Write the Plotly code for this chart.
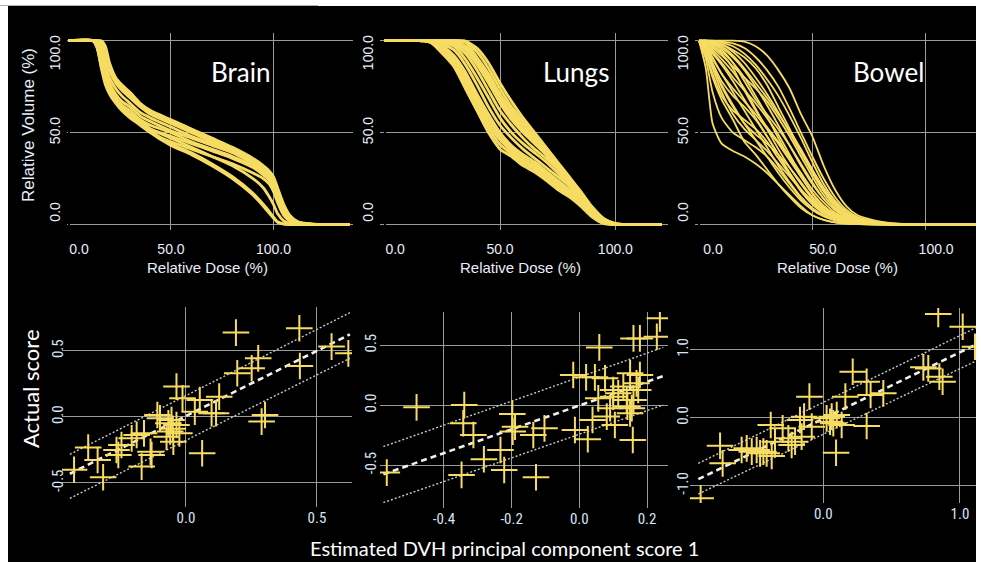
import plotly.graph_objects as go

W, H = 981, 562
YELLOW = '#f6dc62'
GRID = '#9a9a9a'
TICKC = '#e8eef7'
TICKC2 = '#d8e6f6'
SP = '\u2002'

# ---------------- DVH curves (top row) ----------------
brain_dose = [0, 12, 14, 16, 18, 20, 23, 26, 30, 35, 40, 50, 60, 70, 80, 90, 95, 98, 100, 102, 105, 108, 112, 118, 125, 137]
brain_curves = [
    [100, 100, 100, 100, 97, 88, 80, 76, 72, 66, 62, 57, 52, 47, 42, 36, 32, 29, 26, 20, 11, 5, 1.5, 0.3, 0, 0],
    [100, 100, 100, 99.5, 95, 86, 78.5, 74.5, 70.5, 65, 61, 56, 51, 46, 41.5, 35.5, 31.5, 28.5, 25, 19, 10, 4.5, 1.2, 0.2, 0, 0],
    [100, 100, 100, 99, 93, 84, 77, 73, 69, 64, 60, 55, 50, 45, 41, 35, 31, 28, 24, 18, 9, 4, 1, 0.2, 0, 0],
    [100, 100, 100, 97, 88, 80, 74, 70, 66, 61, 58, 53, 48, 44, 40, 34, 30, 27, 23, 16, 8, 3, 1, 0.2, 0, 0],
    [100, 100, 99, 94, 84, 77, 71, 67, 64, 59, 56, 51, 47, 43, 39, 33, 29, 26, 22, 15, 7, 3, 0.8, 0.1, 0, 0],
    [100, 100, 98, 90, 81, 75, 69, 65, 62, 57, 54, 50, 45, 41, 37, 32, 28, 25, 21, 14, 6, 2.5, 0.6, 0.1, 0, 0],
    [100, 100, 97, 87, 78, 73, 68, 63, 60, 56, 52, 48, 44, 40, 36, 31, 27, 24, 20, 13, 6, 2, 0.5, 0, 0, 0],
    [100, 100, 96, 85, 76, 71, 66, 62, 58, 54, 50, 45, 41, 37, 33, 28, 25, 22, 18, 12, 5, 2, 0.5, 0, 0, 0],
    [100, 100, 97, 87, 79, 73, 68, 64, 60, 56, 52, 47, 42, 37, 32, 25, 20, 15, 11, 6, 2, 0.6, 0.1, 0, 0, 0],
    [100, 100, 98, 88, 80, 74, 69, 64, 60, 56, 51, 44, 39, 33, 26, 17, 11, 7, 4, 1.5, 0.3, 0, 0, 0, 0, 0],
    [100, 100, 96, 86, 78, 72, 67, 63, 59, 55, 50, 43, 38, 32, 25, 16, 10, 6, 3.5, 1.2, 0.2, 0, 0, 0, 0, 0],
]

lungs_dose = [0, 15, 20, 25, 30, 35, 40, 45, 50, 55, 60, 65, 70, 75, 80, 85, 90, 95, 100, 105, 120]
lungs_curves = [
    [100, 100, 99, 93, 86, 74, 62, 50, 41, 37, 32, 28.5, 24, 19, 15, 10, 4, 0.5, 0, 0, 0],
    [100, 100, 99, 94.5, 87.5, 76.5, 64.5, 52.5, 43.5, 38.5, 33.5, 29.8, 25.5, 20.5, 16, 10.5, 4.5, 0.7, 0, 0, 0],
    [100, 100, 99.5, 96, 89, 79, 67, 55, 46, 40, 35, 31, 27, 22, 17, 11, 5, 1, 0, 0, 0],
    [100, 100, 99.8, 96.5, 90.5, 81, 69, 57.5, 48, 41.5, 36.5, 32.5, 28, 23, 18, 12, 5.5, 1.1, 0, 0, 0],
    [100, 100, 100, 97, 92, 83, 71, 60, 50, 43, 38, 34, 29, 24, 19, 13, 6, 1.2, 0.1, 0, 0],
    [100, 100, 100, 98, 95, 87, 76, 64, 54, 47, 41, 36, 31, 26, 21, 14, 7, 1.5, 0.1, 0, 0],
    [100, 100, 100, 99, 97, 90, 80, 69, 58, 50, 44, 39, 34, 28, 22, 15, 7.5, 2, 0.2, 0, 0],
    [100, 100, 100, 100, 98, 93, 84, 73, 62, 54, 47, 41, 36, 30, 23, 16, 8, 2, 0.2, 0, 0],
    [100, 100, 100, 100, 99, 95, 87, 77, 66, 57, 50, 44, 38, 32, 25, 17, 8.5, 2.2, 0.3, 0, 0],
    [100, 100, 100, 100, 99.5, 96, 88.5, 78.5, 67.5, 58.5, 51, 44.5, 38.5, 32, 24.5, 16.5, 7.8, 2, 0.25, 0, 0],
    [100, 100, 100, 100, 100, 97, 90, 80, 69, 60, 52, 45, 39, 32, 24, 16, 7, 1.8, 0.2, 0, 0],
    [100, 100, 100, 100, 100, 99, 91, 82, 71, 62, 54, 46, 38, 31, 22, 14, 6.5, 2, 0.3, 0, 0],
    [100, 100, 100, 100, 100, 99.5, 94, 85, 74, 64, 56, 48, 40, 33, 25, 17, 9, 3, 0.5, 0, 0],
    [100, 100, 100, 100, 100, 99.8, 96, 88, 77, 67, 58, 50, 42, 34, 26, 18, 9.5, 3.2, 0.5, 0, 0],
]

bowel_dose = [0, 3, 6, 10, 15, 20, 25, 30, 35, 40, 45, 50, 55, 60, 65, 70, 80, 90, 100, 123]
bowel_curves = [
    [100, 85, 55, 44, 40, 37, 33, 28, 22, 16, 10, 5, 2.5, 1.2, 0.5, 0.2, 0, 0, 0, 0],
    [100, 92, 80, 68, 57, 45, 38, 30, 22, 15, 9, 5, 2.5, 1.2, 0.5, 0.2, 0, 0, 0, 0],
    [100, 95, 86, 76, 65, 55, 46, 37, 28, 20, 13, 8, 4.5, 2.5, 1.2, 0.5, 0.1, 0, 0, 0],
    [100, 96, 90, 82, 72, 62, 52, 42, 32, 23, 15, 9, 5, 2.5, 1.2, 0.5, 0.1, 0, 0, 0],
    [100, 97, 93, 87, 78, 68, 58, 48, 38, 28, 19, 12, 7, 4, 2, 1, 0.2, 0, 0, 0],
    [100, 98, 95, 90, 83, 74, 63, 52, 41, 31, 22, 14, 8, 4.5, 2.2, 1, 0.2, 0, 0, 0],
    [100, 99, 97, 94, 88, 80, 70, 59, 47, 36, 26, 17, 10, 5.5, 2.8, 1.3, 0.3, 0, 0, 0],
    [100, 99.5, 98.5, 96, 91, 84, 75, 65, 54, 43, 32, 22, 14, 8, 4, 2, 0.4, 0, 0, 0],
    [100, 100, 99.5, 98, 94, 88, 80, 71, 61, 50, 39, 28, 18, 10, 5, 2.5, 0.5, 0.1, 0, 0],
    [100, 100, 100, 99, 97, 93, 87, 79, 70, 59, 47, 34, 22, 13, 7, 3.5, 0.8, 0.1, 0, 0],
    [100, 100, 100, 100, 100, 99.5, 97, 92, 84, 74, 60, 48, 32, 19, 10, 5, 1.5, 0.3, 0, 0],
    [100, 97, 88, 78, 70, 64, 57, 48, 38, 28, 19, 12, 7, 4, 2, 1, 0.2, 0, 0, 0],
    [100, 98, 94, 88, 80, 73, 66, 58, 49, 38, 27, 17, 10, 5.5, 3, 1.5, 0.3, 0, 0, 0],
    [100, 99, 98, 95, 88, 78, 68, 60, 52, 43, 33, 23, 14, 8, 4, 2, 0.4, 0, 0, 0],
    [100, 95, 85, 72, 60, 52, 46, 40, 33, 26, 19, 13, 8, 4.5, 2.3, 1.1, 0.2, 0, 0, 0],
    [100, 99, 96, 92, 86, 80, 74, 67, 58, 48, 37, 26, 16, 9, 5, 2.5, 0.5, 0.1, 0, 0],
    [100, 100, 99, 97, 92, 85, 77, 69, 60, 51, 41, 30, 20, 12, 6, 3, 0.6, 0.1, 0, 0],
    [100, 98, 91, 82, 74, 67, 60, 52, 44, 35, 26, 17, 10, 5.5, 3, 1.4, 0.3, 0, 0, 0],
    [100, 100, 99, 98, 95, 91, 85, 76, 64, 52, 40, 29, 19, 11, 6, 3, 0.7, 0.1, 0, 0],
    [100, 96, 87, 75, 64, 55, 49, 44, 38, 31, 23, 15, 9, 5, 2.5, 1.2, 0.3, 0, 0, 0],
    [100, 93, 82, 70, 62, 57, 52, 45, 36, 27, 18, 11, 6, 3.2, 1.6, 0.8, 0.2, 0, 0, 0],
    [100, 99, 97, 93, 85, 73, 62, 53, 45, 37, 28, 19, 12, 6.5, 3.3, 1.6, 0.3, 0, 0, 0],
    [100, 100, 99.8, 99.5, 98.5, 96, 91, 84, 75, 63, 50, 37, 25, 15, 8, 4, 1, 0.2, 0, 0],
    [100, 90, 72, 58, 50, 46, 42, 37, 30, 22, 14, 8, 4.5, 2.2, 1, 0.4, 0.1, 0, 0, 0],
]

# ---------------- PC score scatter (bottom row) ----------------
brain_est = [-0.427, -0.373, -0.337, -0.316, -0.265, -0.258, -0.246, -0.207, -0.188, -0.160, -0.169, -0.135,
             -0.131, -0.109, -0.099, -0.074, -0.067, -0.055, -0.048, -0.036, -0.025, -0.036, -0.013, 0.053,
             0.034, 0.098, 0.115, 0.127, 0.062, 0.191, 0.196, 0.251, 0.276, 0.289, 0.302, 0.433, 0.435,
             0.556, 0.620, -0.050, -0.060]
brain_act = [-0.40, -0.232, -0.326, -0.457, -0.25, -0.288, -0.212, -0.162, -0.136, -0.124, -0.376, -0.263,
             -0.288, 0.015, -0.01, -0.149, -0.048, -0.023, -0.187, -0.061, -0.124, 0.23, 0.141, 0.129,
             0.04, 0.028, 0.028, 0.154, -0.275, 0.639, 0.331, 0.369, 0.444, -0.035, 0.015, 0.672, 0.386,
             0.533, 0.482, -0.09, -0.11]
brain_line_x = [-0.443, 0.626]
brain_fit = [-0.43, 0.625]
brain_upper = [-0.283, 0.79]
brain_lower = [-0.616, 0.444]

lungs_est = [-0.569, -0.481, -0.340, -0.343, -0.313, -0.348, -0.282, -0.233, -0.222, -0.198, -0.190, -0.197,
             -0.136, -0.103, -0.128, -0.018, -0.013, 0.025, 0.020, 0.046, 0.059, 0.039, 0.056, 0.076, 0.091,
             0.081, 0.100, 0.105, 0.115, 0.130, 0.140, 0.142, 0.150, 0.155, 0.160, 0.158, 0.169, 0.174,
             0.179, 0.160, 0.179, 0.229, 0.238, 0.150, 0.100]
lungs_act = [-0.561, -0.017, 0.003, -0.15, -0.247, -0.58, -0.45, -0.372, -0.539, -0.072, -0.178, -0.219,
             -0.247, -0.192, -0.6, 0.253, -0.206, -0.283, 0.233, 0.233, 0.483, -0.122, 0.058, 0.225, -0.025,
             -0.094, 0.128, -0.164, 0.1, 0.156, 0.044, -0.011, 0.267, -0.025, 0.044, -0.289, 0.183, 0.128,
             0.253, 0.558, 0.558, 0.572, 0.725, -0.067, 0.072]
lungs_line_x = [-0.579, 0.248]
lungs_fit = [-0.575, 0.244]
lungs_upper = [-0.344, 0.483]
lungs_lower = [-0.811, 0.003]

bowel_est = [-0.898, -0.756, -0.737, -0.598, -0.561, -0.524, -0.488, -0.463, -0.439, -0.415, -0.378, -0.385,
             -0.354, -0.298, -0.256, -0.232, -0.207, -0.171, -0.159, -0.141, -0.102, -0.085, 0.024, 0.049,
             0.061, 0.073, 0.098, 0.134, 0.093, 0.161, 0.215, 0.317, 0.317, 0.346, 0.439, 0.732, 0.768,
             0.849, 0.873, 0.841, 1.02, 1.11]
bowel_act = [-1.186, -0.412, -0.672, -0.475, -0.451, -0.5, -0.475, -0.525, -0.5, -0.525, -0.564, -0.108,
             -0.353, -0.157, -0.304, -0.402, -0.353, -0.034, -0.279, 0.015, 0.309, -0.132, -0.01, -0.059,
             0.015, -0.083, 0.039, -0.108, -0.515, 0.309, 0.676, 0.529, -0.123, 0.333, 0.358, 0.74, 0.725,
             0.603, 0.529, 1.525, 1.338, 1.044]
bowel_line_x = [-0.915, 1.183]
bowel_fit = [-0.905, 1.14]
bowel_upper = [-0.672, 1.387]
bowel_lower = [-1.123, 0.897]

organs = ['Brain', 'Lungs', 'Bowel']

fig = go.Figure()

# DVH lines
for i, (dose, curves, w) in enumerate([(brain_dose, brain_curves, 2.8),
                                       (lungs_dose, lungs_curves, 2.8),
                                       (bowel_dose, bowel_curves, 1.8)]):
    ax = '' if i == 0 else str(i + 1)
    for c in curves:
        fig.add_trace(go.Scatter(x=dose, y=c, mode='lines', xaxis='x' + ax, yaxis='y' + ax,
                                 line=dict(color=YELLOW, width=w, shape='spline', smoothing=0.6),
                                 hoverinfo='skip', showlegend=False))

# scatter panels
for i, (ex, ac, lx, fit, up, lo) in enumerate([
        (brain_est, brain_act, brain_line_x, brain_fit, brain_upper, brain_lower),
        (lungs_est, lungs_act, lungs_line_x, lungs_fit, lungs_upper, lungs_lower),
        (bowel_est, bowel_act, bowel_line_x, bowel_fit, bowel_upper, bowel_lower)]):
    ax = str(i + 4)
    for yy in (up, lo):
        fig.add_trace(go.Scatter(x=lx, y=yy, mode='lines', xaxis='x' + ax, yaxis='y' + ax,
                                 line=dict(color='#c8c8c8', width=1.4, dash='2px,2px'),
                                 hoverinfo='skip', showlegend=False))
    fig.add_trace(go.Scatter(x=lx, y=fit, mode='lines', xaxis='x' + ax, yaxis='y' + ax,
                             line=dict(color='#f0f0f0', width=2.6, dash='6px,4px'),
                             hoverinfo='skip', showlegend=False))
    fig.add_trace(go.Scatter(x=ex, y=ac, mode='markers', xaxis='x' + ax, yaxis='y' + ax,
                             marker=dict(symbol='cross-thin', size=19, color=YELLOW,
                                         line=dict(color=YELLOW, width=2)),
                             hoverinfo='skip', showlegend=False))

def xdom(a, b):
    return [a / W, b / W]

def ydom(top, bottom):
    return [1 - bottom / H, 1 - top / H]

top_font = dict(family='Liberation Sans, Arial, sans-serif', size=14, color=TICKC)
bot_font = dict(family='Liberation Sans Narrow, Arial Narrow, Roboto Condensed, sans-serif', size=15, color=TICKC2)

dose_ticks = [0, 50, 100]
dose_text = [SP * 3 + '0.0', '50.0', '100.0']
dose_text_bowel = [SP * 4 + '0.0', SP * 3 + '50.0', SP * 3 + '100.0']
vol_ticks = [0, 50, 100]
vol_text = [SP * 3 + '0.0', '50.0', '100.0' + SP * 4]

top_x = [(xdom(67, 353), [-0.73, 138.8], dose_text),
         (xdom(380, 668), [-2.0, 122.8], dose_text),
         (xdom(695, 978), [-1.76, 123.1], dose_text_bowel)]
layout = dict(width=W, height=H, margin=dict(l=0, r=0, t=0, b=0, pad=0, autoexpand=False),
              paper_bgcolor='black', plot_bgcolor='rgba(0,0,0,0)', showlegend=False)

for i, (dom, rng, txt) in enumerate(top_x):
    ax = '' if i == 0 else str(i + 1)
    layout['xaxis' + ax] = dict(domain=dom, range=rng, anchor='y' + ax, tickvals=dose_ticks, ticktext=txt,
                                showgrid=True, gridcolor=GRID, gridwidth=1.3, zeroline=True,
                                zerolinecolor='black', zerolinewidth=2, showline=False, automargin=False,
                                ticks='', tickfont=top_font, ticklabelstandoff=9, fixedrange=True)
    layout['yaxis' + ax] = dict(domain=ydom(33, 230), range=[-3.0, 104.2], anchor='x' + ax,
                                tickvals=vol_ticks, ticktext=vol_text, tickangle=-90, automargin=False,
                                showgrid=True, gridcolor=GRID, gridwidth=1.3, zeroline=False,
                                showline=False, ticks='', tickfont=top_font, ticklabelstandoff=3,
                                fixedrange=True)

bot = [
    (xdom(62, 352), [-0.473, 0.634], [0.0, 0.5], ['0.0', '0.5'],
     ydom(307, 507), [-0.682, 0.833], [-0.5, 0.0, 0.5], ['-0.5', '0.0', '0.5'], -5),
    (xdom(380, 668), [-0.589, 0.262], [-0.4, -0.2, 0.0, 0.2], ['-0.4', '-0.2', '0.0', '0.2'],
     ydom(312, 508), [-0.856, 0.778], [-0.5, 0.0, 0.5], ['-0.5', '0.0', '0.5'], 0),
    (xdom(690, 978), [-0.976, 1.132], [0.0, 1.0], ['0.0', '1.0'],
     ydom(308, 503), [-1.255, 1.613], [-1.0, 0.0, 1.0], ['-1.0', '0.0', '1.0'], -2),
]
for i, (xd, xr, xt, xtt, yd, yr, yt, ytt, ysoff) in enumerate(bot):
    ax = str(i + 4)
    layout['xaxis' + ax] = dict(domain=xd, range=xr, anchor='y' + ax, tickvals=xt, ticktext=xtt,
                                showgrid=True, gridcolor=GRID, gridwidth=1.3, zeroline=False,
                                showline=False, ticks='', tickfont=bot_font, ticklabelstandoff=0,
                                automargin=False, fixedrange=True)
    layout['yaxis' + ax] = dict(domain=yd, range=yr, anchor='x' + ax, tickvals=yt, ticktext=ytt,
                                tickangle=-90, showgrid=True, gridcolor=GRID, gridwidth=1.3,
                                zeroline=False, showline=False, ticks='', tickfont=bot_font,
                                ticklabelstandoff=ysoff, automargin=False, fixedrange=True)

fig.update_layout(**layout)

title_font = dict(family='Lato, Open Sans, sans-serif', size=26, color='white')
label_font = dict(family='Liberation Sans, Arial, sans-serif', size=15, color=TICKC)
vlabel_font = dict(family='Liberation Sans, Arial, sans-serif', size=17, color=TICKC)
big_font = dict(family='Lato, Open Sans, sans-serif', size=20, color='white')
ylab_font = dict(family='Lato, Open Sans, sans-serif', size=22, color='white')

def ann(text, x, y, font, angle=0):
    fig.add_annotation(text=text, x=x / W, y=1 - y / H, xref='paper', yref='paper',
                       showarrow=False, xanchor='center', yanchor='middle', font=font, textangle=angle)

for name, (x, y) in zip(organs, [(240, 72), (576, 72), (888, 72)]):
    ann(name, x, y, title_font)
for x in (207, 520, 837):
    ann('Relative Dose (%)', x, 267, label_font)
ann('Relative Volume (%)', 28, 125, vlabel_font, -90)
ann('Actual score', 30, 389, ylab_font, -90)
ann('Estimated DVH principal component score 1', 505, 548, big_font)

# white page border around the black panel
for x0, x1, y0, y1 in [(0, 8, 0, H), (976, W, 0, H), (0, W, 0, 6)]:
    fig.add_shape(type='rect', xref='paper', yref='paper', x0=x0 / W, x1=x1 / W,
                  y0=1 - y1 / H, y1=1 - y0 / H, fillcolor='white', line=dict(width=0), layer='above')
fig.add_shape(type='line', xref='paper', yref='paper', x0=0, x1=318 / W, y0=1 - 5.5 / H, y1=1 - 5.5 / H,
              line=dict(color='#b0b0b0', width=1), layer='above')

fig.write_html('out.html', config={'displayModeBar': False},
               post_script="document.body.style.margin='0';document.body.style.overflow='hidden';")
